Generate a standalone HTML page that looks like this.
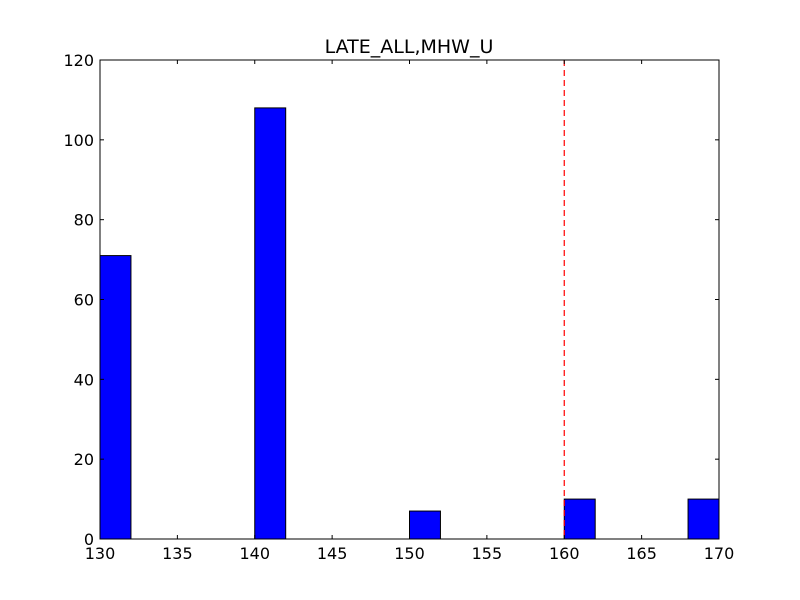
<!DOCTYPE html>
<html><head><meta charset="utf-8"><style>
body{margin:0;background:#fff;}
svg{display:block;font-family:"DejaVu Sans","Liberation Sans",sans-serif;}
</style></head><body>
<svg id="chart" width="800" height="600">
<rect width="800" height="600" fill="#fff"/>
<text x="409" y="53" font-size="19" text-anchor="middle">LATE_ALL,MHW_U</text>
<g id="bars"></g>
<g id="ticks"></g>
<rect x="100" y="60" width="619" height="479" fill="none" stroke="#000" stroke-width="1"/>
</svg>
<script>
const binStarts = [130, 140, 150, 160, 168];
const counts = [71, 108, 7, 10, 10];
const binWidth = 2;
const xTicks = [130, 135, 140, 145, 150, 155, 160, 165, 170];
const yTicks = [0, 20, 40, 60, 80, 100, 120];
const refLine = 160;

const X0=100,X1=719,Y0=539,Y1=60;
const xs=v=>X0+(v-130)/40*(X1-X0);
const ys=v=>Y0-(v/120)*(Y0-Y1);
const NS="http://www.w3.org/2000/svg";
const bars=document.getElementById('bars'), ticks=document.getElementById('ticks');
function mk(tag,attrs,parent){const e=document.createElementNS(NS,tag);for(const k in attrs)e.setAttribute(k,attrs[k]);parent.appendChild(e);return e;}
binStarts.forEach((b,i)=>{
  const r=mk('rect',{x:xs(b),y:ys(counts[i]),width:xs(b+binWidth)-xs(b),height:Y0-ys(counts[i]),fill:'#0000ff',stroke:'#000','stroke-width':1},bars);
  
  
});
const l=mk('line',{x1:xs(refLine),x2:xs(refLine),y1:Y1,y2:Y0,stroke:'#ff0000','stroke-width':1.2,'stroke-dasharray':'6,4'},bars);


xTicks.forEach(v=>{
  const x=xs(v);
  mk('line',{x1:x,x2:x,y1:Y0,y2:Y0-4,stroke:'#000'},ticks);
  mk('line',{x1:x,x2:x,y1:Y1,y2:Y1+4,stroke:'#000'},ticks);
  const t=mk('text',{x:x,y:Y0+20,'font-size':16,'text-anchor':'middle'},ticks);
  t.textContent=v;
  
  
});
yTicks.forEach(v=>{
  const y=ys(v);
  mk('line',{x1:X0,x2:X0+4,y1:y,y2:y,stroke:'#000'},ticks);
  mk('line',{x1:X1,x2:X1-4,y1:y,y2:y,stroke:'#000'},ticks);
  const t=mk('text',{x:X0-6,y:y+6,'font-size':16,'text-anchor':'end'},ticks);
  t.textContent=v;
  
  
});
</script>
</body></html>
